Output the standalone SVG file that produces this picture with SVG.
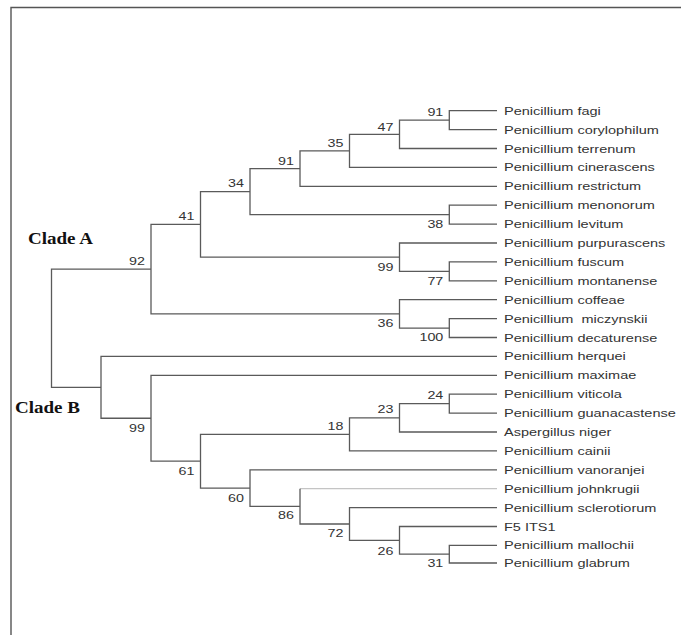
<svg xmlns="http://www.w3.org/2000/svg" width="681" height="635" viewBox="0 0 681 635">
<style>
.br{fill:none;stroke:#5a5a5a;stroke-width:1.3}
.lt{fill:none;stroke:#c4c4c4;stroke-width:1.3}
.frame{fill:none;stroke:#555;stroke-width:1.4}
.lf{font-family:"Liberation Sans",Arial,sans-serif;font-size:11px;fill:#333;white-space:pre}
.bs{font-family:"Liberation Sans",Arial,sans-serif;font-size:11px;fill:#333;text-anchor:end}
.cl{font-family:"Liberation Serif","Times New Roman",serif;font-size:16px;font-weight:bold;fill:#111}
</style>
<rect width="681" height="635" fill="#fff"/>
<path class="frame" d="M11,636 V7.5 H682"/>
<g id="connectors">
<path class="br" d="M497,110.7 H449.3 V129.6 H497"/>
<path class="br" d="M449.3,120.15 H399.5 V148.5 H497"/>
<path class="br" d="M399.5,134.3 H349.5 V167.4 H497"/>
<path class="br" d="M349.5,150.9 H300 V186.3 H497"/>
<path class="br" d="M497,205.2 H449.3 V224.1 H497"/>
<path class="br" d="M300,168.6 H250 V214.65 H449.3"/>
<path class="br" d="M497,261.9 H449.3 V280.8 H497"/>
<path class="br" d="M497,243 H399.5 V271.35 H449.3"/>
<path class="br" d="M250,191.6 H200.5 V257.2 H399.5"/>
<path class="br" d="M497,318.6 H449.3 V337.5 H497"/>
<path class="br" d="M497,299.7 H399.5 V328.05 H449.3"/>
<path class="br" d="M200.5,224.4 H151 V313.9 H399.5"/>
<path class="br" d="M497,394.2 H449.3 V413.1 H497"/>
<path class="br" d="M449.3,403.65 H399.5 V432 H497"/>
<path class="br" d="M399.5,417.8 H349.5 V450.9 H497"/>
<path class="br" d="M497,545.4 H449.3 V563 H497"/>
<path class="br" d="M497,526.5 H399.5 V554.2 H449.3"/>
<path class="br" d="M497,507.6 H349.5 V540.35 H399.5"/>
<path class="lt" d="M300,488.7 H497"/>
<path class="br" d="M300,488.7 V523.98 H349.5"/>
<path class="br" d="M497,469.8 H250 V506.3 H300"/>
<path class="br" d="M349.5,434.4 H200.5 V488.07 H250"/>
<path class="br" d="M497,375.3 H151 V461.2 H200.5"/>
<path class="br" d="M497,356.4 H101 V418.25 H151"/>
<path class="br" d="M151,269.1 H51.5 V387.3 H101"/>
</g>
<g id="clades">
<text class="cl" x="28" y="244" textLength="65" lengthAdjust="spacingAndGlyphs">Clade A</text>
<text class="cl" x="15" y="413" textLength="65" lengthAdjust="spacingAndGlyphs">Clade B</text>
</g>
<g id="leaves">
<g id="leaf-fagi"><text class="lf" transform="translate(504,114.7) scale(1.32,1)">Penicillium fagi</text></g>
<g id="leaf-corylophilum"><text class="lf" transform="translate(504,133.6) scale(1.32,1)">Penicillium corylophilum</text></g>
<g id="leaf-terrenum"><text class="lf" transform="translate(504,152.5) scale(1.32,1)">Penicillium terrenum</text></g>
<g id="leaf-cinerascens"><text class="lf" transform="translate(504,171.4) scale(1.32,1)">Penicillium cinerascens</text></g>
<g id="leaf-restrictum"><text class="lf" transform="translate(504,190.3) scale(1.32,1)">Penicillium restrictum</text></g>
<g id="leaf-menonorum"><text class="lf" transform="translate(504,209.2) scale(1.32,1)">Penicillium menonorum</text></g>
<g id="leaf-levitum"><text class="lf" transform="translate(504,228.1) scale(1.32,1)">Penicillium levitum</text></g>
<g id="leaf-purpurascens"><text class="lf" transform="translate(504,247) scale(1.32,1)">Penicillium purpurascens</text></g>
<g id="leaf-fuscum"><text class="lf" transform="translate(504,265.9) scale(1.32,1)">Penicillium fuscum</text></g>
<g id="leaf-montanense"><text class="lf" transform="translate(504,284.8) scale(1.32,1)">Penicillium montanense</text></g>
<g id="leaf-coffeae"><text class="lf" transform="translate(504,303.7) scale(1.32,1)">Penicillium coffeae</text></g>
<g id="leaf-miczynskii"><text class="lf" transform="translate(504,322.6) scale(1.32,1)">Penicillium  miczynskii</text></g>
<g id="leaf-decaturense"><text class="lf" transform="translate(504,341.5) scale(1.32,1)">Penicillium decaturense</text></g>
<g id="leaf-herquei"><text class="lf" transform="translate(504,360.4) scale(1.32,1)">Penicillium herquei</text></g>
<g id="leaf-maximae"><text class="lf" transform="translate(504,379.3) scale(1.32,1)">Penicillium maximae</text></g>
<g id="leaf-viticola"><text class="lf" transform="translate(504,398.2) scale(1.32,1)">Penicillium viticola</text></g>
<g id="leaf-guanacastense"><text class="lf" transform="translate(504,417.1) scale(1.32,1)">Penicillium guanacastense</text></g>
<g id="leaf-niger"><text class="lf" transform="translate(504,436) scale(1.32,1)">Aspergillus niger</text></g>
<g id="leaf-cainii"><text class="lf" transform="translate(504,454.9) scale(1.32,1)">Penicillium cainii</text></g>
<g id="leaf-vanoranjei"><text class="lf" transform="translate(504,473.8) scale(1.32,1)">Penicillium vanoranjei</text></g>
<g id="leaf-johnkrugii"><text class="lf" transform="translate(504,492.7) scale(1.32,1)">Penicillium johnkrugii</text></g>
<g id="leaf-sclerotiorum"><text class="lf" transform="translate(504,511.6) scale(1.32,1)">Penicillium sclerotiorum</text></g>
<g id="leaf-f5its1"><text class="lf" transform="translate(504,530.5) scale(1.32,1)">F5 ITS1</text></g>
<g id="leaf-mallochii"><text class="lf" transform="translate(504,549.4) scale(1.32,1)">Penicillium mallochii</text></g>
<g id="leaf-glabrum"><text class="lf" transform="translate(504,567) scale(1.32,1)">Penicillium glabrum</text></g>
</g>
<g id="bootstraps">
<g id="n-fagi"><text class="bs" transform="translate(443.3,115.5) scale(1.3,1)">91</text></g>
<g id="n-47"><text class="bs" transform="translate(393.5,130.5) scale(1.3,1)">47</text></g>
<g id="n-35"><text class="bs" transform="translate(343.5,146.5) scale(1.3,1)">35</text></g>
<g id="n-restr"><text class="bs" transform="translate(294,164.5) scale(1.3,1)">91</text></g>
<g id="n-34"><text class="bs" transform="translate(244,187) scale(1.3,1)">34</text></g>
<g id="n-41"><text class="bs" transform="translate(194.5,220) scale(1.3,1)">41</text></g>
<g id="n-92"><text class="bs" transform="translate(145,265) scale(1.3,1)">92</text></g>
<g id="n-38"><text class="bs" transform="translate(443.3,228.2) scale(1.3,1)">38</text></g>
<g id="n-99a"><text class="bs" transform="translate(393.5,270.6) scale(1.3,1)">99</text></g>
<g id="n-77"><text class="bs" transform="translate(443.3,284.8) scale(1.3,1)">77</text></g>
<g id="n-36"><text class="bs" transform="translate(393.5,327.2) scale(1.3,1)">36</text></g>
<g id="n-100"><text class="bs" transform="translate(443.3,340.8) scale(1.3,1)">100</text></g>
<g id="n-99b"><text class="bs" transform="translate(145,431.5) scale(1.3,1)">99</text></g>
<g id="n-24"><text class="bs" transform="translate(443.3,399) scale(1.3,1)">24</text></g>
<g id="n-23"><text class="bs" transform="translate(393.5,413) scale(1.3,1)">23</text></g>
<g id="n-18"><text class="bs" transform="translate(343.5,430) scale(1.3,1)">18</text></g>
<g id="n-61"><text class="bs" transform="translate(194.5,474.8) scale(1.3,1)">61</text></g>
<g id="n-60"><text class="bs" transform="translate(244,501.5) scale(1.3,1)">60</text></g>
<g id="n-86"><text class="bs" transform="translate(294,519.2) scale(1.3,1)">86</text></g>
<g id="n-72"><text class="bs" transform="translate(343.5,537.2) scale(1.3,1)">72</text></g>
<g id="n-26"><text class="bs" transform="translate(393.5,554.8) scale(1.3,1)">26</text></g>
<g id="n-31"><text class="bs" transform="translate(443.3,567.3) scale(1.3,1)">31</text></g>
</g>
</svg>
